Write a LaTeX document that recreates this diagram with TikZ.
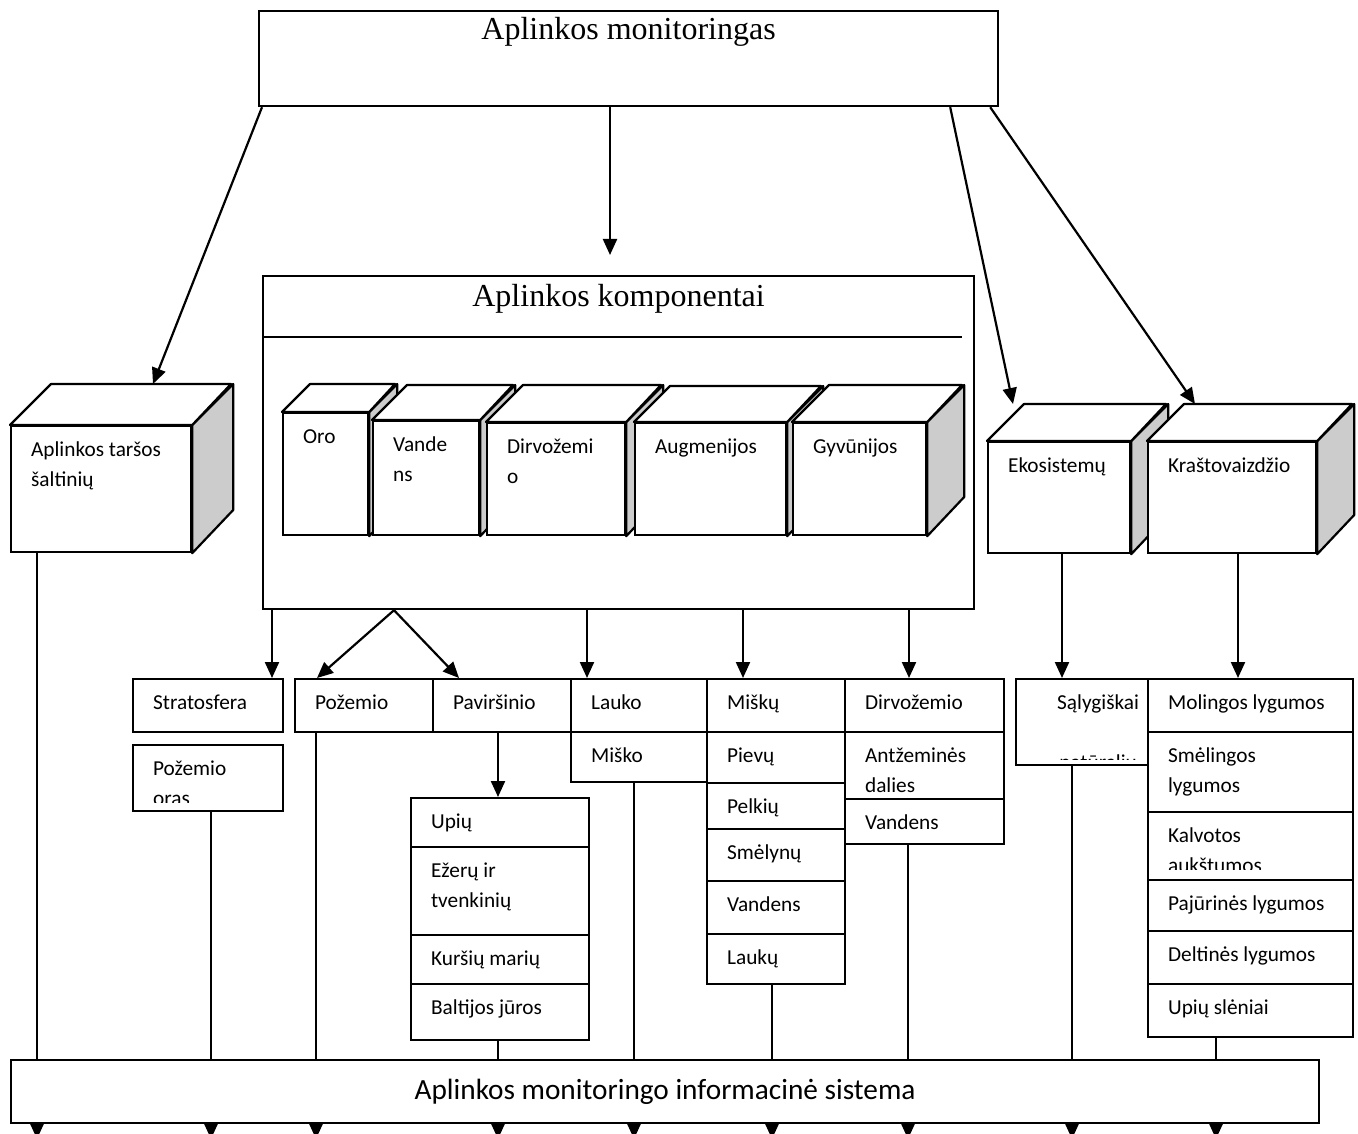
\documentclass[tikz,border=0pt]{standalone}
\usepackage{fontspec}
\setmainfont{Carlito}
\newfontfamily\timesfont{Liberation Serif}
\usetikzlibrary{arrows.meta,calc}

\begin{document}
\begin{tikzpicture}[
  x=1pt, y=-1pt,
  >={Triangle[length=16pt,width=14pt]},
  line width=2.2pt,
  box/.style={draw, fill=white, inner sep=0pt, anchor=north west},
  topface/.style={draw, fill=white, line join=round},
  side/.style={draw, fill=black!20, line join=round},
  lbl/.style={anchor=north west, inner sep=0pt, align=left, xshift=20pt, yshift=-9pt,
    font=\fontsize{21.3pt}{30pt}\selectfont},
  title/.style={anchor=base, inner sep=0pt, font=\timesfont\fontsize{32pt}{38pt}\selectfont},
  arr/.style={->}
]
  \useasboundingbox (0,0) rectangle (1358,1134);
  \clip (0,0) rectangle (1358,1134);

  % main boxes
  \node[box, minimum width=739pt, minimum height=95pt] (mon) at (258,10) {};
  \node[title] at ([yshift=-30pt]mon.north) {Aplinkos monitoringas};
  \node[box, minimum width=711pt, minimum height=333pt] (komp) at (262,275) {};
  \node[title] at ([yshift=-31pt]komp.north) {Aplinkos komponentai};
  \draw ($(komp.north west)+(0,62)$) -- ($(komp.north east)+(-13,62)$);
  \node[box, minimum width=1308pt, minimum height=63pt] (ams) at (10,1059) {};
  \node[anchor=base, inner sep=0pt, font=\fontsize{29.3pt}{34pt}\selectfont]
    at ([yshift=-8pt]ams.center) {Aplinkos monitoringo informacinė sistema};

  % cubes
  \foreach \n/\x/\y/\w/\h/\d/\t in {
      tar/10/425/180/126/41/{Aplinkos taršos\\šaltinių},
      oro/282/412/85/122/28/{Oro},
      van/372/420/106/114/35/{Vande\\ns},
      dirv/486/422/138/112/37/{Dirvožemi\\o},
      aug/634/422/151/112/36/{Augmenijos},
      gyv/792/422/133/112/37/{Gyvūnijos},
      eko/987/441/142/111/37/{Ekosistemų},
      kra/1147/441/168/111/37/{Kraštovaizdžio}} {
    \node[box, minimum width=\w pt, minimum height=\h pt] (\n) at (\x,\y) {};
    \draw[side] (\n.north east) -- ++(\d,-\d) -- ++(0,\h) -- (\n.south east) -- cycle;
    \draw[topface] (\n.north west) -- ++(\d,-\d) -- ++(\w,0) -- (\n.north east) -- cycle;
    \coordinate (\n-bk) at ($(\n.north west)+(\d,-\d)$);
    \node[lbl] at (\n.north west) {\strut\t};
  }

  % table cells
  \foreach \n/\x/\y/\w/\h/\t in {
      str/132/678/150/53/{Stratosfera},
      poz/294/678/138/53/{Požemio},
      pav/432/678/138/53/{Paviršinio},
      lau/570/678/136/53/{Lauko},
      mko/570/731/136/50/{Miško},
      mku/706/678/138/53/{Miškų},
      pie/706/731/138/51/{Pievų},
      pel/706/782/138/46/{Pelkių},
      sme/706/828/138/52/{Smėlynų},
      vnm/706/880/138/53/{Vandens},
      lku/706/933/138/50/{Laukų},
      dir/844/678/159/53/{Dirvožemio},
      ant/844/731/159/67/{Antžeminės\\dalies},
      vand/844/798/159/45/{Vandens},
      mol/1147/678/205/53/{Molingos lygumos},
      sml/1147/731/205/80/{Smėlingos\\lygumos},
      upi/410/797/178/49/{Upių},
      eze/410/846/178/88/{Ežerų ir\\tvenkinių},
      kur/410/934/178/49/{Kuršių marių},
      bal/410/983/178/56/{Baltijos jūros}} {
    \node[box, minimum width=\w pt, minimum height=\h pt] (\n) at (\x,\y) {};
    \node[lbl] at (\n.north west) {\strut\t};
  }

  % cells whose text runs over
  \node[box, minimum width=150pt, minimum height=66pt] (por) at (132,744) {};
  \begin{scope}
    \clip (por.north west) rectangle ($(por.south east)+(0,-10)$);
    \node[lbl] at (por.north west) {\strut Požemio\\oras};
  \end{scope}
  \node[box, minimum width=132pt, minimum height=86pt] (sal) at (1015,678) {};
  \begin{scope}
    \clip (sal.north west) rectangle ($(sal.south east)+(0,-7)$);
    \node[lbl, anchor=north, align=center, xshift=-4pt] at (sal.north) {\strut Sąlygiškai\\[30pt]natūralių};
  \end{scope}
  \node[box, minimum width=205pt, minimum height=68pt] (kal) at (1147,811) {};
  \begin{scope}
    \clip (kal.north west) rectangle ($(kal.south east)+(0,-12)$);
    \node[lbl] at (kal.north west) {\strut Kalvotos\\aukštumos};
  \end{scope}
  \foreach \n/\y/\h/\t in {
      paj/879/51/{Pajūrinės lygumos},
      del/930/53/{Deltinės lygumos},
      usl/983/53/{Upių slėniai}} {
    \node[box, minimum width=205pt, minimum height=\h pt] (\n) at (1147,\y) {};
    \node[lbl] at (\n.north west) {\strut\t};
  }

  % arrows from the top box
  \coordinate (kin) at (610,255);
  \draw[arr] ([xshift=4pt]mon.south west) -- ([xshift=102pt]tar-bk);
  \draw[arr] (mon.south -| kin) -- (kin);
  \draw[arr] ([xshift=-49pt]mon.south east) -- ([xshift=-11pt]eko-bk);
  \draw[arr] ([xshift=-9pt]mon.south east) -- ([xshift=11pt]kra-bk);

  % arrows down to the cells
  \coordinate (fork) at (394,0);
  \draw[arr] (komp.south -| fork) -- ([xshift=23pt]poz.north west);
  \draw[arr] (komp.south -| fork) -- ([xshift=27pt]pav.north west);
  \foreach \a/\s/\t/\x in {a1/komp/str/272, a2/komp/lau/587, a3/komp/mku/743,
      a4/komp/dir/909, a5/eko/sal/1062, a6/kra/mol/1238, a7/pav/upi/498} {
    \coordinate (\a) at (\x,0);
    \draw[arr] (\s.south -| \a) -- (\t.north -| \a);
  }

  % lines into the information system
  \foreach \s/\x in {tar/37, por/211, poz/316, bal/498, mko/634, lku/772,
      vand/908, sal/1072, usl/1216} {
    \coordinate (d-\s) at (\x,1139);
    \draw (\s.south -| d-\s) -- (ams.north -| d-\s);
    \draw[arr] (ams.south -| d-\s) -- (d-\s);
  }
\end{tikzpicture}
\end{document}
